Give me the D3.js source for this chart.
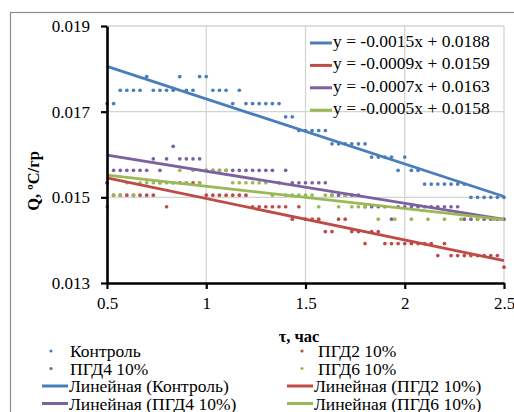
<!DOCTYPE html>
<html><head><meta charset="utf-8">
<script src="https://cdn.jsdelivr.net/npm/d3@7"></script>
<style>
body{margin:0;background:#fff;overflow:hidden}
text{font-family:"Liberation Serif","Times New Roman",serif;fill:#000}
</style>
</head><body>
<svg id="c" width="514" height="412"></svg>
<script>
// ---- data ----
const timeMin = [30,32,34,36,38,40,42,44,46,48,50,52,54,56,58,60,62,64,66,68,70,72,74,76,78,80,82,84,86,88,90,92,94,96,98,100,102,104,106,108,110,112,114,116,118,120,122,124,126,128,130,132,134,136,138,140,142,144,146,148,150];
const kontrol = [0.01719,0.01719,0.0175,0.0175,0.0175,0.0175,0.01782,0.0175,0.0175,0.0175,0.0175,0.01782,0.0175,0.0175,0.01782,0.01782,0.0175,0.0175,0.0175,0.01719,0.0175,
  0.01719,0.01719,0.01719,0.01719,0.01719,0.01719,0.01688,0.01688,0.01656,0.01656,0.01656,0.01656,0.01656,
  0.01625,0.01625,0.01625,0.01625,0.01625,0.01625,0.01594,0.01594,0.01594,0.01594,0.01563,0.01594,0.01563,0.01563,
  0.01531,0.01531,0.01531,0.01531,0.01531,0.01531,0.01531,0.015,0.015,0.015,0.015,0.015,0.015];
const pgd2 = [0.01534,0.01505,0.01505,0.01505,0.01505,0.01505,0.01505,0.01505,0.01534,0.01478,0.01534,0.01534,0.01534,0.01534,0.01534,
  0.01505,0.01505,0.01505,0.01505,0.01505,0.01505,0.01505,0.01478,0.01478,0.01478,0.01478,0.01478,0.01478,
  0.01449,0.01478,0.01449,0.01449,0.01449,0.0142,0.0142,0.01449,0.01449,0.0142,0.0142,0.01392,0.0142,0.0142,
  0.01392,0.01392,0.01392,0.01392,0.01392,0.01392,0.01392,0.01392,0.01364,0.01392,
  0.01364,0.01364,0.01364,0.01364,0.01364,0.01364,0.01364,0.01364,0.01337];
const pgd4 = [0.01534,0.01563,0.01563,0.01563,0.01563,0.01563,0.01563,0.0159,0.01563,0.0159,0.01619,0.0159,0.0159,0.0159,0.0159,
  0.01563,0.01563,0.01563,0.01563,0.01563,0.01563,0.01563,0.01563,0.01563,0.01563,0.01563,0.01534,0.01563,
  0.01534,0.01534,0.01534,0.01534,0.01534,0.01534,0.01505,0.01505,0.01505,0.01505,0.01505,
  0.01478,0.01478,0.01478,0.01478,0.01449,0.01478,0.01478,0.01478,0.01478,0.01478,0.01478,0.01478,0.01478,0.01478,0.01478,
  0.01449,0.01449,0.01449,0.01449,0.01449,0.01449,0.01449];
const pgd6Time = [30,32,34,36,38,40,42,44,46,48,50,52,54,56,58,60,62,64,66,68,70,72,74,76,78,80,82,84,86,88,90,92,94,96,98,100,102,104,106,108,112,117,122,127,132,137,142,147];
const pgd6 = [0.01478,0.01505,0.01505,0.01534,0.01505,0.01534,0.01534,0.01534,0.01534,0.01534,0.01534,0.01563,0.01534,0.01563,0.01534,
  0.01563,0.01563,0.01563,0.01563,0.01534,0.01534,0.01534,0.01534,0.01534,0.01534,0.01505,0.01534,
  0.01505,0.01505,0.01505,0.01505,0.01505,0.01478,0.01505,0.01505,0.01478,0.01505,0.01478,0.01478,0.01478,
  0.01449,0.01449,0.01449,0.01449,0.01449,0.01449,0.01449,0.01449];
const seriesNames = ["Контроль","ПГД2 10%","ПГД4 10%","ПГД6 10%"];
const equations = ["y = -0.0015x + 0.0188","y = -0.0009x + 0.0159","y = -0.0007x + 0.0163","y = -0.0005x + 0.0158"];
const colors = ["#4A7EBB","#BE4B48","#7D60A0","#98B954"];
const xTicks = [0.5,1,1.5,2,2.5];
const xTickLabels = ["0.5","1","1.5","2","2.5"];
const yTicks = [0.013,0.015,0.017,0.019];
const yTickLabels = ["0.013","0.015","0.017","0.019"];

// ---- build ----
const FONT = "Liberation Serif";
const series = [
  {name:seriesNames[0], t:timeMin, v:kontrol, c:colors[0]},
  {name:seriesNames[1], t:timeMin, v:pgd2, c:colors[1]},
  {name:seriesNames[2], t:timeMin, v:pgd4, c:colors[2]},
  {name:seriesNames[3], t:pgd6Time, v:pgd6, c:colors[3]}
].map(s => ({...s, pts: s.t.map((m,i)=>({x:m/60, y:s.v[i]}))}));

const svg = d3.select("#c");
const x = d3.scaleLinear().domain([0.5,2.5]).range([107,504]);
const y = d3.scaleLinear().domain([0.013,0.019]).range([283,26]);

// chart border
svg.append("rect").attr("x",10.5).attr("y",12.5).attr("width",540).attr("height",440)
  .attr("fill","none").attr("stroke","#8c8c8c").attr("stroke-width",1.2);

// grid
svg.append("g").selectAll("line").data(xTicks.slice(1)).join("line")
  .attr("x1",d=>x(d)).attr("x2",d=>x(d)).attr("y1",y(0.019)).attr("y2",y(0.013))
  .attr("stroke","#d4d4d4").attr("stroke-width",1.3);
svg.append("g").selectAll("line").data(yTicks.slice(1)).join("line")
  .attr("x1",x(0.5)).attr("x2",x(2.5)).attr("y1",d=>y(d)).attr("y2",d=>y(d))
  .attr("stroke","#d4d4d4").attr("stroke-width",1.3);

// points
series.forEach(s=>{
  svg.append("g").selectAll("circle").data(s.pts).join("circle")
    .attr("cx",d=>x(d.x)).attr("cy",d=>y(d.y)).attr("r",1.85).attr("fill",s.c);
});

// linear trend lines (least squares)
function fit(pts){
  const mx=d3.mean(pts,d=>d.x), my=d3.mean(pts,d=>d.y);
  const b=d3.sum(pts,d=>(d.x-mx)*(d.y-my))/d3.sum(pts,d=>(d.x-mx)*(d.x-mx));
  return {b, a:my-b*mx};
}
const line = d3.line().x(d=>x(d.x)).y(d=>y(d.y));
series.forEach(s=>{
  const f=fit(s.pts);
  const ends=[0.5,2.5].map(t=>({x:t,y:f.a+f.b*t}));
  svg.append("path").attr("d",line(ends)).attr("stroke",s.c).attr("stroke-width",2.8).attr("fill","none");
});

// axes
const yAxis = d3.axisLeft(y).tickValues(yTicks).tickFormat((d,i)=>yTickLabels[i]).tickSize(6).tickSizeOuter(0).tickPadding(11);
const gy = svg.append("g").attr("transform",`translate(${x(0.5)},0)`).call(yAxis);
const xAxis = d3.axisBottom(x).tickValues(xTicks).tickFormat((d,i)=>xTickLabels[i]).tickSize(6).tickSizeOuter(0).tickPadding(8);
const gx = svg.append("g").attr("transform",`translate(0,${y(0.013)})`).call(xAxis);
[gy,gx].forEach(g=>{
  g.attr("font-family",FONT);
  g.select(".domain").attr("stroke","#000").attr("stroke-width",2.6);
  g.selectAll(".tick line").attr("stroke","#000").attr("stroke-width",2.2);
  g.selectAll("text").attr("font-family",FONT).attr("font-size",17).attr("fill","#000");
});

// axis titles
svg.append("text").attr("transform","translate(39,181) rotate(-90)").attr("text-anchor","middle")
  .attr("font-family",FONT).attr("font-weight","bold").attr("font-size",16.5).text("Q, ºC/гр");
svg.append("text").attr("x",299).attr("y",342).attr("text-anchor","middle")
  .attr("font-family",FONT).attr("font-weight","bold").attr("font-size",16.5).text("τ, час");

// equation legend (inside plot)
equations.forEach((e,i)=>{
  const cy = 41 + i*22.4;
  svg.append("line").attr("x1",310).attr("x2",332).attr("y1",cy+2).attr("y2",cy+2)
    .attr("stroke",colors[i]).attr("stroke-width",3);
  svg.append("text").attr("x",333).attr("y",cy+6).attr("font-family",FONT).attr("font-size",17.5).text(e);
});

// bottom legend
const legCols=[{m:51,t:70,l1:42,l2:68},{m:302,t:318,l1:287,l2:313}];
const legRows=[351,368.5,386,403.5];
series.forEach((s,i)=>{
  const col=legCols[i%2], row=legRows[Math.floor(i/2)];
  svg.append("circle").attr("cx",col.m).attr("cy",row).attr("r",1.6).attr("fill",s.c);
  svg.append("text").attr("x",col.t).attr("y",row+6).attr("font-family",FONT).attr("font-size",17.5).text(s.name);
});
series.forEach((s,i)=>{
  const col=legCols[i%2], row=legRows[2+Math.floor(i/2)];
  svg.append("line").attr("x1",col.l1).attr("x2",col.l2).attr("y1",row).attr("y2",row)
    .attr("stroke",s.c).attr("stroke-width",3);
  svg.append("text").attr("x",col.l2+1).attr("y",row+6).attr("font-family",FONT).attr("font-size",17.5).text(`Линейная (${s.name})`);
});
</script>
</body></html>
